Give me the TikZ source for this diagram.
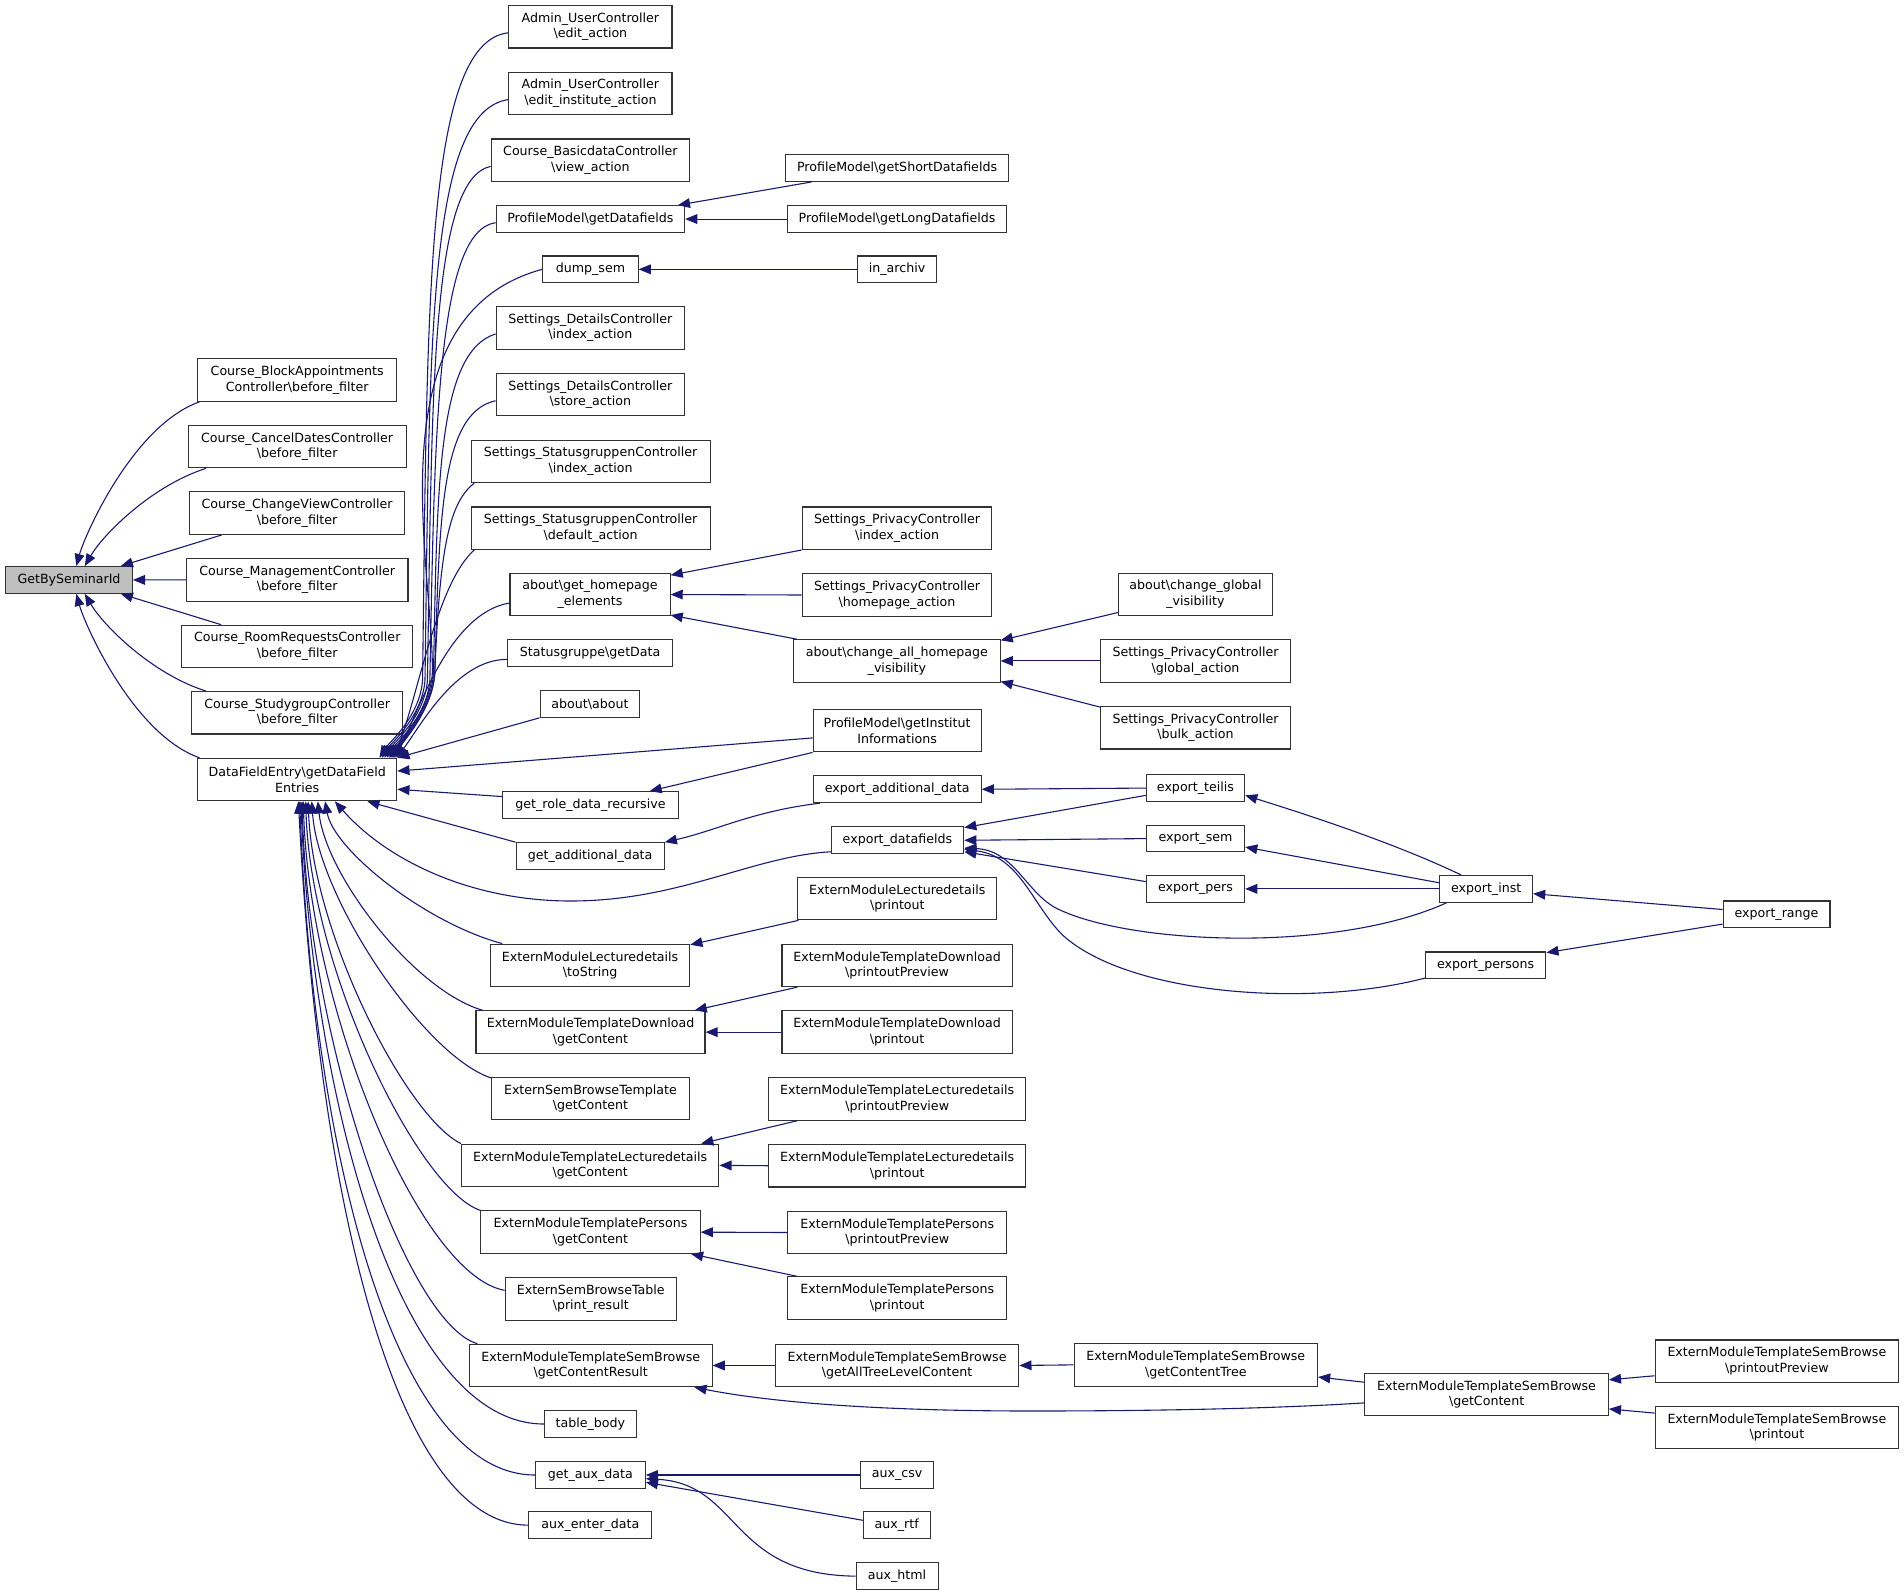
\documentclass[tikz,border=0pt]{standalone}
\usepackage{fontspec}
\setmainfont{DejaVu Sans}
\usetikzlibrary{arrows.meta,calc}
\definecolor{edgec}{RGB}{25,25,112}
\definecolor{gbsfill}{RGB}{191,191,191}
\newcommand{\myBS}{\textbackslash{}}
\begin{document}
\begin{tikzpicture}[x=1pt,y=-1pt,
  box/.style={draw=black!80, fill=white, line width=0.9pt, inner sep=0pt, align=center,
    font=\fontsize{10.4}{12.9}\selectfont, minimum height=35pt},
  sbox/.style={box, minimum height=22pt},
  cg/.style={draw=edgec, line width=0.9pt, {Triangle[length=10pt,width=8pt]}-}]
\path[use as bounding box, fill=white] (0,0) rectangle (1568,1313.5);

% column 1
\node[box,fill=gbsfill,minimum width=104.3pt,minimum height=22pt] (gbs) at (56.85,477.6) {GetBySeminarId};
\node[box,minimum width=164pt] (c1) at (244.75,313) {Course\_BlockAppointments\\Controller\myBS before\_filter};
\node[box,minimum width=179.4pt] (c2) at (244.7,367.8) {Course\_CancelDatesController\\\myBS before\_filter};
\node[box,minimum width=177.3pt] (c3) at (244.65,422.6) {Course\_ChangeViewController\\\myBS before\_filter};
\node[box,minimum width=182.5pt] (c4) at (244.75,477.5) {Course\_ManagementController\\\myBS before\_filter};
\node[box,minimum width=190.4pt] (c5) at (244.8,532.4) {Course\_RoomRequestsController\\\myBS before\_filter};
\node[box,minimum width=173.8pt] (c6) at (244.8,587) {Course\_StudygroupController\\\myBS before\_filter};
\node[box,minimum width=164pt] (dfe) at (244.75,642) {DataFieldEntry\myBS getDataField\\Entries};

% column 2
\node[box,minimum width=134.4pt] (a1) at (486.2,22) {Admin\_UserController\\\myBS edit\_action};
\node[box,minimum width=134.4pt] (a2) at (486.2,77) {Admin\_UserController\\\myBS edit\_institute\_action};
\node[box,minimum width=163.6pt] (bd) at (486.2,132) {Course\_BasicdataController\\\myBS view\_action};
\node[sbox,minimum width=155.2pt] (pdf) at (486.2,180.4) {ProfileModel\myBS getDatafields};
\node[sbox,minimum width=78.5pt] (dump) at (486.25,221.8) {dump\_sem};
\node[box,minimum width=155.2pt] (sd1) at (486.2,270) {Settings\_DetailsController\\\myBS index\_action};
\node[box,minimum width=155.2pt] (sd2) at (486.2,325) {Settings\_DetailsController\\\myBS store\_action};
\node[box,minimum width=196.8pt] (ss1) at (486.4,380) {Settings\_StatusgruppenController\\\myBS index\_action};
\node[box,minimum width=196.8pt] (ss2) at (486.4,435) {Settings\_StatusgruppenController\\\myBS default\_action};
\node[box,minimum width=131.8pt] (agh) at (485.9,489.6) {about\myBS get\_homepage\\\_elements};
\node[sbox,minimum width=136pt] (sgd) at (486,538) {Statusgruppe\myBS getData};
\node[sbox,minimum width=82.2pt] (aab) at (485.9,579.7) {about\myBS about};
\node[sbox,minimum width=144.5pt] (grd) at (486.25,663) {get\_role\_data\_recursive};
\node[sbox,minimum width=122pt] (gad) at (486,705) {get\_additional\_data};
\node[box,minimum width=164pt] (eld) at (486,795) {ExternModuleLecturedetails\\\myBS toString};
\node[box,minimum width=188.6pt] (etdg) at (486.3,850) {ExternModuleTemplateDownload\\\myBS getContent};
\node[box,minimum width=162.5pt] (esbt) at (486.25,904.7) {ExternSemBrowseTemplate\\\myBS getContent};
\node[box,minimum width=212pt] (etlg) at (486,959.7) {ExternModuleTemplateLecturedetails\\\myBS getContent};
\node[box,minimum width=180.6pt] (etpg) at (486.3,1014.7) {ExternModuleTemplatePersons\\\myBS getContent};
\node[box,minimum width=141pt] (esbtab) at (486.5,1069.6) {ExternSemBrowseTable\\\myBS print\_result};
\node[box,minimum width=199.8pt] (etsr) at (486.5,1124.5) {ExternModuleTemplateSemBrowse\\\myBS getContentResult};
\node[sbox,minimum width=75.6pt] (tb) at (486.2,1172.7) {table\_body};
\node[sbox,minimum width=90.4pt] (gax) at (486.2,1214.7) {get\_aux\_data};
\node[sbox,minimum width=101.2pt] (aed) at (486.2,1256) {aux\_enter\_data};

% column 3
\node[sbox,minimum width=184pt] (pgs) at (738.75,138.4) {ProfileModel\myBS getShortDatafields};
\node[sbox,minimum width=180.5pt] (pgl) at (738.75,180.4) {ProfileModel\myBS getLongDatafields};
\node[sbox,minimum width=65.5pt] (ina) at (738.75,221.8) {in\_archiv};
\node[box,minimum width=156.2pt] (spi) at (738.7,435) {Settings\_PrivacyController\\\myBS index\_action};
\node[box,minimum width=156.2pt] (sph) at (738.7,490) {Settings\_PrivacyController\\\myBS homepage\_action};
\node[box,minimum width=170pt] (cah) at (738.6,544.3) {about\myBS change\_all\_homepage\\\_visibility};
\node[box,minimum width=138.4pt] (pgi) at (738.8,601.7) {ProfileModel\myBS getInstitut\\Informations};
\node[sbox,minimum width=138.4pt] (ead) at (738.8,650) {export\_additional\_data};
\node[sbox,minimum width=109pt] (edf) at (739.1,692) {export\_datafields};
\node[box,minimum width=164pt] (elp) at (739,740) {ExternModuleLecturedetails\\\myBS printout};
\node[box,minimum width=189.5pt] (edpp) at (738.75,795) {ExternModuleTemplateDownload\\\myBS printoutPreview};
\node[box,minimum width=189.5pt] (edp) at (738.75,850) {ExternModuleTemplateDownload\\\myBS printout};
\node[box,minimum width=211.7pt] (etlpp) at (738.85,905) {ExternModuleTemplateLecturedetails\\\myBS printoutPreview};
\node[box,minimum width=211.7pt] (etlp) at (738.85,960) {ExternModuleTemplateLecturedetails\\\myBS printout};
\node[box,minimum width=180.2pt] (etppp) at (738.9,1015) {ExternModuleTemplatePersons\\\myBS printoutPreview};
\node[box,minimum width=180.2pt] (etpp) at (738.9,1069) {ExternModuleTemplatePersons\\\myBS printout};
\node[box,minimum width=200.4pt] (eatl) at (738.8,1124.5) {ExternModuleTemplateSemBrowse\\\myBS getAllTreeLevelContent};
\node[sbox,minimum width=60.4pt] (acsv) at (738.8,1214.7) {aux\_csv};
\node[sbox,minimum width=55pt] (artf) at (738.5,1256) {aux\_rtf};
\node[sbox,minimum width=67.5pt] (ahtml) at (738.75,1298) {aux\_html};

% column 4
\node[box,minimum width=127pt] (cgv) at (984.5,489.5) {about\myBS change\_global\\\_visibility};
\node[box,minimum width=155.8pt] (spg) at (984.5,544.3) {Settings\_PrivacyController\\\myBS global\_action};
\node[box,minimum width=155.8pt] (spb) at (984.5,599.3) {Settings\_PrivacyController\\\myBS bulk\_action};
\node[sbox,minimum width=81pt] (ete) at (984.5,649) {export\_teilis};
\node[sbox,minimum width=81pt] (ese) at (984.5,690.6) {export\_sem};
\node[sbox,minimum width=81pt] (epe) at (984.5,732) {export\_pers};
\node[box,minimum width=200.4pt] (egct) at (984.8,1124) {ExternModuleTemplateSemBrowse\\\myBS getContentTree};

% column 5
\node[sbox,minimum width=76.3pt] (ein) at (1223.9,732) {export\_inst};
\node[sbox,minimum width=99pt] (eps) at (1223.5,795) {export\_persons};
\node[box,minimum width=200.5pt] (esgc) at (1224.25,1148.3) {ExternModuleTemplateSemBrowse\\\myBS getContent};

% column 6
\node[sbox,minimum width=88pt] (erg) at (1463,753) {export\_range};
\node[box,minimum width=200.6pt] (esbpp) at (1463.3,1121) {ExternModuleTemplateSemBrowse\\\myBS printoutPreview};
\node[box,minimum width=200.6pt] (esbp) at (1463.3,1175.7) {ExternModuleTemplateSemBrowse\\\myBS printout};

% edges into GetBySeminarId
\draw[cg] ([xshift=6pt]gbs.north) .. controls (70,440) and (110,350) .. ([xshift=2pt]c1.south west);
\draw[cg] ([xshift=13pt]gbs.north) .. controls (85,440) and (125,400) .. ([xshift=15pt]c2.south west);
\draw[cg] ([xshift=-10pt]gbs.north east) -- ([xshift=27pt]c3.south west);
\draw[cg] (gbs.east) -- (c4.west);
\draw[cg] ([xshift=-10pt]gbs.south east) -- ([xshift=33pt]c5.north west);
\draw[cg] ([xshift=13pt]gbs.south) .. controls (85,515) and (125,555) .. ([xshift=12pt]c6.north west);
\draw[cg] ([xshift=6pt]gbs.south) .. controls (70,515) and (110,605) .. ([xshift=2pt]dfe.north west);

% edges into DataFieldEntry from above
\draw[cg] ([xshift=-14.7pt]dfe.north east) .. controls (320,612) and (346,590) .. (348,560) .. controls (352,250) and (350,35) .. ([yshift=-5pt]a1.west);
\draw[cg] ([xshift=-12.7pt]dfe.north east) .. controls (322,612) and (348,590) .. (350,560) .. controls (354,280) and (352,92) .. ([yshift=-5pt]a2.west);
\draw[cg] ([xshift=-10.7pt]dfe.north east) .. controls (324,612) and (350,590) .. (352,560) .. controls (356,320) and (355,148) .. ([yshift=-5pt]bd.west);
\draw[cg] ([xshift=-8.7pt]dfe.north east) .. controls (326,612) and (352,590) .. (354,560) .. controls (358,350) and (360,190) .. ([yshift=-3pt]pdf.west);
\draw[cg] ([xshift=-6.7pt]dfe.north east) .. controls (328,612) and (354,585) .. (356,555) .. controls (358,470) and (305,260) .. (dump.west);
\draw[cg] ([xshift=-5.7pt]dfe.north east) .. controls (329,612) and (355,585) .. (357,555) .. controls (360,400) and (360,290) .. ([yshift=-5pt]sd1.west);
\draw[cg] ([xshift=-4.7pt]dfe.north east) .. controls (330,612) and (356,585) .. (358,555) .. controls (362,430) and (362,340) .. ([yshift=-5pt]sd2.west);
\draw[cg] ([xshift=-3.7pt]dfe.north east) .. controls (331,612) and (356,585) .. (358,555) .. controls (362,460) and (368,415) .. ([xshift=3pt]ss1.south west);
\draw[cg] ([xshift=-2.7pt]dfe.north east) .. controls (345,570) and (360,480) .. ([xshift=3pt]ss2.south west);
\draw[cg] ([xshift=-1.7pt]dfe.north east) .. controls (345,585) and (370,505) .. ([yshift=-7pt]agh.west);
\draw[cg] ([xshift=-0.7pt]dfe.north east) .. controls (345,600) and (375,543) .. ([yshift=-5pt]sgd.west);
\draw[cg] (dfe.north east) -- (aab.south west);

% edges into DataFieldEntry from the right
\draw[cg] ([yshift=7pt]dfe.east) -- ([yshift=-6pt]pgi.west);
\draw[cg] ([yshift=-8pt]dfe.east) -- ([yshift=7pt]grd.west);
\draw[cg] ([xshift=-24.7pt]dfe.south east) -- (gad.north west);

% edges into DataFieldEntry from below
\draw[cg] ([xshift=31pt]dfe.south) .. controls (320,710) and (390,742) .. (470,742) .. controls (560,742) and (620,705) .. ([yshift=2pt]edf.south west);
\draw[cg] ([xshift=23pt]dfe.south) .. controls (275,700) and (350,760) .. ([xshift=10pt]eld.north west);
\draw[cg] ([xshift=17pt]dfe.south) .. controls (268,720) and (340,815) .. ([xshift=6pt]etdg.north west);
\draw[cg] ([xshift=12pt]dfe.south) .. controls (262,740) and (350,870) .. ([yshift=-1pt]esbt.north west);
\draw[cg] ([xshift=9pt]dfe.south) .. controls (258,770) and (335,920) .. (etlg.north west);
\draw[cg] ([xshift=7pt]dfe.south) .. controls (256,800) and (345,980) .. (etpg.north west);
\draw[cg] ([xshift=5pt]dfe.south) .. controls (255,830) and (345,1050) .. ([yshift=7pt]esbtab.west);
\draw[cg] ([xshift=4pt]dfe.south) .. controls (254,860) and (335,1090) .. ([xshift=7pt]etsr.north west);
\draw[cg] ([xshift=3pt]dfe.south) .. controls (258,910) and (330,1172.7) .. (tb.west);
\draw[cg] ([xshift=2pt]dfe.south) .. controls (258,950) and (325,1214.7) .. (gax.west);
\draw[cg] ([xshift=1pt]dfe.south) .. controls (262,985) and (325,1256) .. (aed.west);

% right-hand edges
\draw[cg] ([xshift=-6pt]pdf.north east) -- ([xshift=22pt]pgs.south west);
\draw[cg] (pdf.east) -- (pgl.west);
\draw[cg] (dump.east) -- (ina.west);
\draw[cg] ([yshift=-2pt]agh.north east) -- (spi.south west);
\draw[cg] (agh.east) -- (sph.west);
\draw[cg] ([yshift=1pt]agh.south east) -- ([xshift=3pt]cah.north west);
\draw[cg] ([yshift=-1pt]cah.north east) -- ([yshift=3pt]cgv.south west);
\draw[cg] (cah.east) -- (spg.west);
\draw[cg] ([yshift=1pt]cah.south east) -- ([yshift=-1pt]spb.north west);
\draw[cg] ([xshift=-24pt]grd.north east) -- (pgi.south west);
\draw[cg] (gad.north east) .. controls (590,684) and (620,668) .. ([xshift=6pt]ead.south west);
\draw[cg] (ead.east) -- (ete.west);
\draw[cg] ([yshift=-1pt]edf.north east) -- ([yshift=-6pt]ete.west);
\draw[cg] (edf.east) -- (ese.west);
\draw[cg] ([yshift=2pt]edf.south east) -- ([yshift=6pt]epe.west);
\draw[cg] ([yshift=5pt]edf.south east) .. controls (835,700) and (845,735) .. (870,748) .. controls (930,778) and (1100,785) .. ([xshift=6pt]ein.south west);
\draw[cg] ([yshift=4pt]edf.south east) .. controls (840,705) and (850,745) .. (875,770) .. controls (930,820) and (1080,830) .. ([yshift=1pt]eps.south west);
\draw[cg] ([yshift=-6pt]ete.east) .. controls (1080,672) and (1150,695) .. ([xshift=18pt]ein.north west);
\draw[cg] ([yshift=-7pt]ese.east) -- ([yshift=5pt]ein.west);
\draw[cg] (epe.east) -- (ein.west);
\draw[cg] ([yshift=-4pt]ein.east) -- ([yshift=4pt]erg.west);
\draw[cg] ([yshift=-1pt]eps.north east) -- ([yshift=-8pt]erg.west);
\draw[cg] ([yshift=-1pt]eld.north east) -- ([xshift=1pt]elp.south west);
\draw[cg] ([xshift=-9pt]etdg.north east) -- ([xshift=13pt]edpp.south west);
\draw[cg] (etdg.east) -- (edp.west);
\draw[cg] ([xshift=-15pt]etlg.north east) -- ([xshift=24pt]etlpp.south west);
\draw[cg] (etlg.east) -- (etlp.west);
\draw[cg] (etpg.east) -- (etppp.west);
\draw[cg] ([xshift=-8pt]etpg.south east) -- ([xshift=8pt]etpp.north west);
\draw[cg] (etsr.east) -- (eatl.west);
\draw[cg] ([xshift=-15pt]etsr.south east) .. controls (620,1152) and (700,1162) .. (850,1162) .. controls (950,1162) and (1050,1160) .. ([yshift=-7pt]esgc.west);
\draw[cg] (eatl.east) -- (egct.west);
\draw[cg] ([yshift=-10pt]egct.east) -- ([yshift=10pt]esgc.west);
\draw[cg] ([yshift=12pt]esgc.east) -- ([yshift=-12pt]esbpp.west);
\draw[cg] ([yshift=-12pt]esgc.east) -- ([yshift=12pt]esbp.west);
\draw[cg] (gax.east) -- (acsv.west);
\draw[cg] ([yshift=-6pt]gax.east) -- ([yshift=4pt]artf.west);
\draw[cg] ([yshift=-3pt]gax.east) .. controls (610,1222) and (600,1297) .. (ahtml.west);
\end{tikzpicture}
\end{document}
